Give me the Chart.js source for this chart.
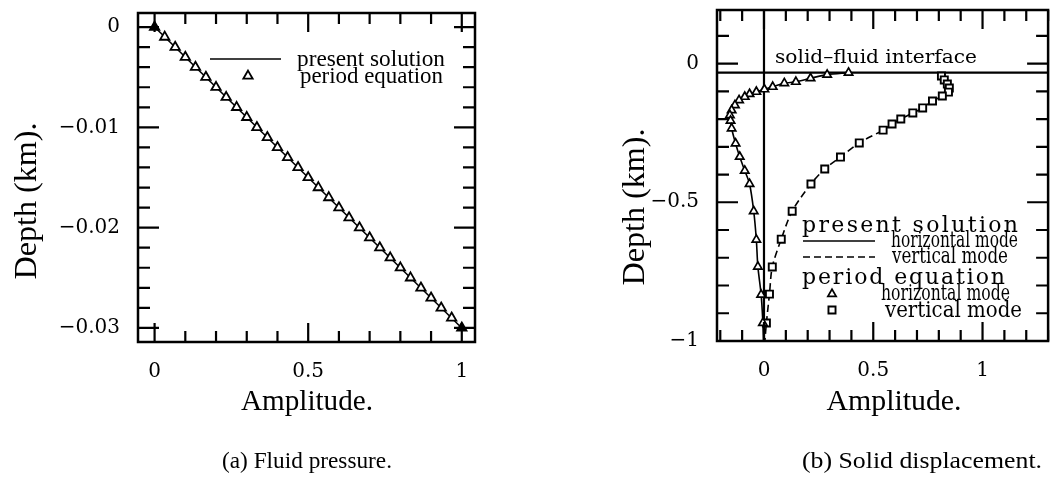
<!DOCTYPE html>
<html><head><meta charset="utf-8">
<script src="https://cdn.jsdelivr.net/npm/chart.js@4.4.1/dist/chart.umd.min.js"></script>
<style>
html,body{margin:0;padding:0;background:#fff;width:1055px;height:481px;overflow:hidden}
#ca{position:absolute;left:0;top:0}
#cb{position:absolute;left:530px;top:0}
</style></head><body>
<canvas id="ca" width="530" height="481"></canvas>
<canvas id="cb" width="525" height="481"></canvas>
<script>
// ---------- Panel (a): fluid pressure ----------
const depthA = [0,-0.001,-0.002,-0.003,-0.004,-0.005,-0.006,-0.007,-0.008,-0.009,-0.010,-0.011,-0.012,-0.013,-0.014,-0.015,-0.016,-0.017,-0.018,-0.019,-0.020,-0.021,-0.022,-0.023,-0.024,-0.025,-0.026,-0.027,-0.028,-0.029,-0.030];
const ampA = [0,0.033,0.067,0.100,0.133,0.167,0.200,0.233,0.267,0.300,0.333,0.367,0.400,0.433,0.467,0.500,0.533,0.567,0.600,0.633,0.667,0.700,0.733,0.767,0.800,0.833,0.867,0.900,0.933,0.967,1.000];
const solAmpA = [0, 1];
const solDepthA = [0, -0.03];
const xTickValsA = [0, 0.5, 1];
const xTickLabelsA = ['0', '0.5', '1'];
const yTickValsA = [0, -0.01, -0.02, -0.03];
const yTickLabelsA = ['0', '\u22120.01', '\u22120.02', '\u22120.03'];
const xMinorA = [0,0.1,0.2,0.3,0.4,0.5,0.6,0.7,0.8,0.9,1];
const yMinorA = [0,-0.002,-0.004,-0.006,-0.008,-0.01,-0.012,-0.014,-0.016,-0.018,-0.02,-0.022,-0.024,-0.026,-0.028,-0.03];

// ---------- Panel (b): solid displacement ----------
const hAmpB = [0.387,0.289,0.213,0.146,0.093,0.040,0.002,-0.035,-0.066,-0.088,-0.114,-0.133,-0.148,-0.156,-0.153,-0.148,-0.130,-0.111,-0.088,-0.066,-0.047,-0.035,-0.028,-0.013,-0.005];
const hDepthB = [-0.033,-0.040,-0.053,-0.066,-0.071,-0.084,-0.093,-0.102,-0.110,-0.120,-0.132,-0.150,-0.168,-0.186,-0.206,-0.234,-0.288,-0.336,-0.386,-0.434,-0.532,-0.635,-0.732,-0.833,-0.935];
const hSolAmpB = [0.387,0.289,0.213,0.146,0.093,0.040,0.002,-0.035,-0.066,-0.088,-0.114,-0.133,-0.148,-0.156,-0.153,-0.148,-0.130,-0.111,-0.088,-0.066,-0.047,-0.035,-0.028,-0.013,-0.005,-0.002];
const hSolDepthB = [-0.033,-0.040,-0.053,-0.066,-0.071,-0.084,-0.093,-0.102,-0.110,-0.120,-0.132,-0.150,-0.168,-0.186,-0.206,-0.234,-0.288,-0.336,-0.386,-0.434,-0.532,-0.635,-0.732,-0.833,-0.935,-1.0];
const vAmpB = [0.812,0.825,0.839,0.848,0.844,0.816,0.771,0.726,0.681,0.626,0.586,0.545,0.436,0.350,0.278,0.215,0.129,0.079,0.038,0.025,0.011];
const vDepthB = [-0.045,-0.059,-0.074,-0.088,-0.103,-0.117,-0.135,-0.160,-0.178,-0.200,-0.218,-0.240,-0.286,-0.337,-0.380,-0.434,-0.532,-0.633,-0.733,-0.831,-0.935];
const vSolAmpB = [0.808,0.812,0.825,0.839,0.848,0.844,0.816,0.771,0.726,0.681,0.626,0.586,0.545,0.436,0.350,0.278,0.215,0.129,0.079,0.038,0.025,0.011,0.004];
const vSolDepthB = [-0.033,-0.045,-0.059,-0.074,-0.088,-0.103,-0.117,-0.135,-0.160,-0.178,-0.200,-0.218,-0.240,-0.286,-0.337,-0.380,-0.434,-0.532,-0.633,-0.733,-0.831,-0.935,-1.0];
const interfaceDepthB = -0.033;
const xTickValsB = [0, 0.5, 1];
const xTickLabelsB = ['0', '0.5', '1'];
const yTickValsB = [0, -0.5, -1];
const yTickLabelsB = ['0', '\u22120.5', '\u22121'];
const xMinorB = [-0.2,-0.1,0,0.1,0.2,0.3,0.4,0.5,0.6,0.7,0.8,0.9,1,1.1,1.2,1.3];
const yMinorB = [-1,-0.9,-0.8,-0.7,-0.6,-0.5,-0.4,-0.3,-0.2,-0.1,0,0.1];

// ---------- helpers ----------
const zip = (xs, ys) => xs.map((x, i) => ({x, y: ys[i]}));
const SERIF = '"DejaVu Serif"';
const TIMES = '"Liberation Serif"';

function drawFit(ctx, text, x, y, width, o) {
  ctx.save();
  ctx.font = `${o.size}px ${o.family || SERIF}`;
  ctx.fillStyle = '#000';
  ctx.textBaseline = o.baseline || 'middle';
  ctx.textAlign = 'left';
  const n = [...text].length;
  let w = ctx.measureText(text).width;
  ctx.translate(x, y);
  if (o.rotate) ctx.rotate(o.rotate);
  let sx = 1;
  if (width) {
    if (width > w && o.spread && 'letterSpacing' in ctx) {
      ctx.letterSpacing = ((width - w) / (n - 1)) + 'px';
    } else {
      sx = width / w;
    }
    w = width;
  }
  if (o.align === 'center') ctx.translate(-w / 2, 0);
  ctx.scale(sx, o.sy || 1);
  ctx.fillText(text, 0, 0);
  ctx.restore();
}

function tickPlugin(xMinor, xMajor, yMinor, yMajor) {
  return {
    id: 'frameTicks',
    afterDatasetsDraw(chart) {
      const {ctx, chartArea: a, scales: {x, y}} = chart;
      const isMaj = (arr, v) => arr.some(m => Math.abs(m - v) < 1e-9);
      ctx.save();
      ctx.strokeStyle = '#000';
      ctx.lineWidth = 2.2;
      ctx.beginPath();
      xMinor.forEach(v => {
        const p = x.getPixelForValue(v);
        const L = isMaj(xMajor, v) ? 19 : 11;
        ctx.moveTo(p, a.bottom); ctx.lineTo(p, a.bottom - L);
        ctx.moveTo(p, a.top); ctx.lineTo(p, a.top + L);
      });
      yMinor.forEach(v => {
        const p = y.getPixelForValue(v);
        const L = isMaj(yMajor, v) ? 21 : 12;
        ctx.moveTo(a.left, p); ctx.lineTo(a.left + L, p);
        ctx.moveTo(a.right, p); ctx.lineTo(a.right - L, p);
      });
      ctx.stroke();
      ctx.lineWidth = 2.5;
      ctx.strokeRect(a.left, a.top, a.right - a.left, a.bottom - a.top);
      ctx.restore();
    }
  };
}

function labelCb(vals, labels) {
  return (v) => {
    const i = vals.findIndex(t => Math.abs(t - v) < 1e-9);
    return i >= 0 ? labels[i] : '';
  };
}

function scaleCfg(min, max, vals, labels, fit) {
  return {
    type: 'linear', min, max,
    grid: {display: false}, border: {display: false},
    ticks: {color: '#000', font: {family: 'DejaVu Serif', size: 20}, padding: 10,
            autoSkip: false, maxRotation: 0, callback: labelCb(vals, labels)},
    afterBuildTicks: s => { s.ticks = vals.map(v => ({value: v})); },
    afterFit: fit
  };
}

Chart.defaults.animation = false;

// ---------- Chart (a) ----------
new Chart(document.getElementById('ca'), {
  type: 'scatter',
  data: {datasets: [
    {label: 'period equation', data: zip(ampA, depthA), pointStyle: 'triangle', pointRadius: 5.4,
     pointBorderWidth: 1.8, borderColor: '#000',
     pointBackgroundColor: ampA.map((v, i) => (i === 0 || i === ampA.length - 1) ? '#000' : '#fff'),
     showLine: false},
    {label: 'present solution', data: zip(solAmpA, solDepthA), showLine: true, borderColor: '#000',
     borderWidth: 1.6, pointRadius: 0}
  ]},
  options: {
    responsive: false,
    layout: {padding: {left: 0, right: 55, top: 13, bottom: 0}},
    plugins: {legend: {display: false}, tooltip: {enabled: false}},
    scales: {
      x: scaleCfg(-0.054, 1.043, xTickValsA, xTickLabelsA, s => { s.height = 139; s.paddingLeft = 0; s.paddingRight = 0; }),
      y: scaleCfg(-0.0314, 0.0014, yTickValsA, yTickLabelsA, s => { s.width = 138; s.paddingTop = 0; s.paddingBottom = 0; })
    }
  },
  plugins: [tickPlugin(xMinorA, xTickValsA, yMinorA, yTickValsA), {
    id: 'textsA',
    afterDraw(chart) {
      const ctx = chart.ctx;
      // legend
      ctx.save(); ctx.strokeStyle = '#000'; ctx.lineWidth = 1.6;
      ctx.beginPath(); ctx.moveTo(210, 59); ctx.lineTo(281, 59); ctx.stroke(); ctx.restore();
      ctx.save(); ctx.fillStyle = '#fff'; ctx.strokeStyle = '#000'; ctx.lineWidth = 1.8;
      Chart.helpers.drawPoint(ctx, {pointStyle: 'triangle', radius: 5.4, borderWidth: 1.8}, 248, 76);
      ctx.restore();
      drawFit(ctx, 'present solution', 297, 60, 148, {size: 24, family: TIMES});
      drawFit(ctx, 'period equation', 300, 77, 143, {size: 24, family: TIMES});
      // titles
      drawFit(ctx, 'Depth (km).', 28, 201, 157, {size: 31, family: TIMES, rotate: -Math.PI / 2, align: 'center'});
      drawFit(ctx, 'Amplitude.', 307, 410, 132, {size: 29, family: TIMES, align: 'center', baseline: 'alphabetic'});
      drawFit(ctx, '(a) Fluid pressure.', 307, 468, 170, {size: 23, family: TIMES, align: 'center', baseline: 'alphabetic'});
    }
  }]
});

// ---------- Chart (b) ----------
new Chart(document.getElementById('cb'), {
  type: 'scatter',
  data: {datasets: [
    {label: 'period equation: horizontal mode', data: zip(hAmpB, hDepthB), pointStyle: 'triangle', pointRadius: 4.8,
     pointBorderWidth: 1.7, borderColor: '#000', pointBackgroundColor: '#fff', showLine: false},
    {label: 'period equation: vertical mode', data: zip(vAmpB, vDepthB), pointStyle: 'rect', pointRadius: 5,
     pointBorderWidth: 1.9, borderColor: '#000', pointBackgroundColor: '#fff', showLine: false},
    {label: 'present solution: horizontal mode', data: zip(hSolAmpB, hSolDepthB), showLine: true, borderColor: '#000',
     borderWidth: 1.6, pointRadius: 0, tension: 0.3},
    {label: 'present solution: vertical mode', data: zip(vSolAmpB, vSolDepthB), showLine: true, borderColor: '#000',
     borderWidth: 1.6, borderDash: [7, 4], pointRadius: 0, tension: 0.3}
  ]},
  options: {
    responsive: false,
    layout: {padding: {left: 0, right: 3, top: 10, bottom: 0}},
    plugins: {legend: {display: false}, tooltip: {enabled: false}},
    scales: {
      x: scaleCfg(-0.215, 1.3, xTickValsB, xTickLabelsB, s => { s.height = 140; s.paddingLeft = 0; s.paddingRight = 0; }),
      y: scaleCfg(-1, 0.193, yTickValsB, yTickLabelsB, s => { s.width = 187; s.paddingTop = 0; s.paddingBottom = 0; })
    }
  },
  plugins: [tickPlugin(xMinorB, xTickValsB, yMinorB, yTickValsB), {
    id: 'refLines',
    beforeDatasetsDraw(chart) {
      const {ctx, chartArea: a, scales: {x, y}} = chart;
      ctx.save(); ctx.strokeStyle = '#000'; ctx.lineWidth = 2.2;
      const px = x.getPixelForValue(0), py = y.getPixelForValue(interfaceDepthB);
      ctx.beginPath();
      ctx.moveTo(px, a.top); ctx.lineTo(px, a.bottom);
      ctx.moveTo(a.left, py); ctx.lineTo(a.right, py);
      ctx.stroke(); ctx.restore();
    }
  }, {
    id: 'textsB',
    afterDraw(chart) {
      const ctx = chart.ctx;
      const ox = 530;
      drawFit(ctx, 'solid\u2013fluid interface', 775 - ox, 58, 202, {size: 18});
      // legend
      ctx.save(); ctx.strokeStyle = '#000'; ctx.lineWidth = 1.6;
      ctx.beginPath(); ctx.moveTo(803 - ox, 241); ctx.lineTo(875 - ox, 241); ctx.stroke();
      ctx.setLineDash([7, 4]);
      ctx.beginPath(); ctx.moveTo(803 - ox, 257); ctx.lineTo(875 - ox, 257); ctx.stroke();
      ctx.restore();
      ctx.save(); ctx.fillStyle = '#fff'; ctx.strokeStyle = '#000'; ctx.lineWidth = 1.7;
      Chart.helpers.drawPoint(ctx, {pointStyle: 'triangle', radius: 4.8, borderWidth: 1.7}, 832 - ox, 294);
      ctx.lineWidth = 1.9;
      Chart.helpers.drawPoint(ctx, {pointStyle: 'rect', radius: 5, borderWidth: 1.9}, 832 - ox, 310);
      ctx.restore();
      drawFit(ctx, 'present solution', 802 - ox, 226, 216, {size: 22, spread: true});
      drawFit(ctx, 'horizontal mode', 891 - ox, 241, 127, {size: 23});
      drawFit(ctx, 'vertical mode', 892 - ox, 257, 116, {size: 23});
      drawFit(ctx, 'period equation', 802 - ox, 278, 203, {size: 22, spread: true});
      drawFit(ctx, 'horizontal mode', 881 - ox, 294, 129, {size: 23});
      drawFit(ctx, 'vertical mode', 885 - ox, 311, 137, {size: 22, spread: true});
      // titles
      drawFit(ctx, 'Depth (km).', 636 - ox, 207, 157, {size: 31, family: TIMES, rotate: -Math.PI / 2, align: 'center'});
      drawFit(ctx, 'Amplitude.', 894 - ox, 410, 135, {size: 29, family: TIMES, align: 'center', baseline: 'alphabetic'});
      drawFit(ctx, '(b) Solid displacement.', 922 - ox, 468, 240, {size: 23, family: TIMES, align: 'center', baseline: 'alphabetic'});
    }
  }]
});
</script>
</body></html>
